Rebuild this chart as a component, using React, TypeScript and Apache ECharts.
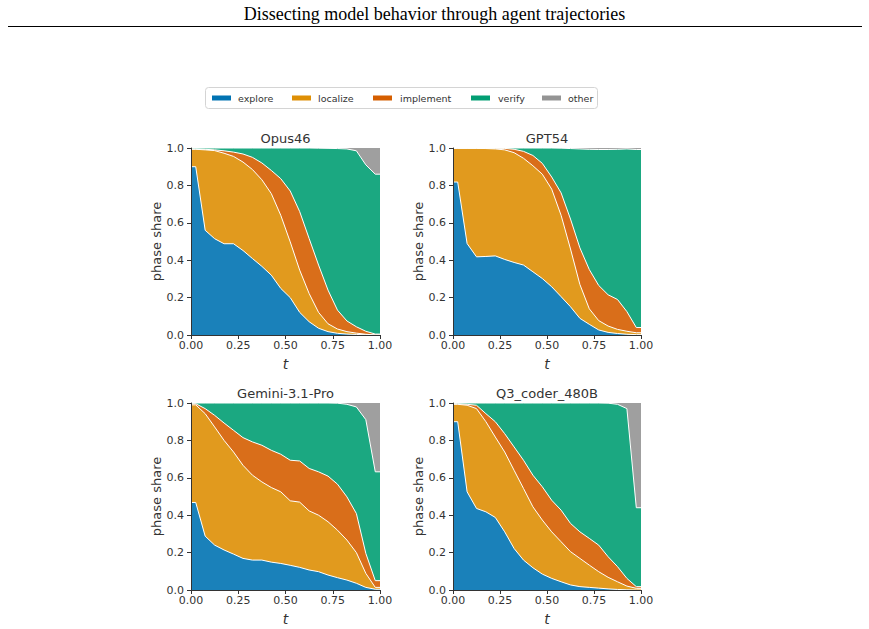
import React, { useEffect, useRef } from 'react';
import * as echarts from 'echarts';

// Trajectory-time bins (bin centres), with the curve held flat to t=0 and t=1
const T_CENTERS = [0.025, 0.075, 0.125, 0.175, 0.225, 0.275, 0.325, 0.375, 0.425, 0.475,
  0.525, 0.575, 0.625, 0.675, 0.725, 0.775, 0.825, 0.875, 0.925, 0.975];

const MODELS = ['Opus46', 'GPT54', 'Gemini-3.1-Pro', 'Q3_coder_480B'];
const PHASES = ['explore', 'localize', 'implement', 'verify', 'other'];

// Cumulative upper boundary of each phase band
const OPUS_EXPLORE = [0.90, 0.56, 0.515, 0.488, 0.488, 0.452, 0.409, 0.367, 0.32, 0.249, 0.2, 0.121, 0.071, 0.036, 0.018, 0.009, 0.005, 0.003, 0.001, 0.0];
const OPUS_LOCALIZE = [0.993, 0.99, 0.986, 0.972, 0.955, 0.925, 0.885, 0.83, 0.756, 0.64, 0.498, 0.347, 0.222, 0.121, 0.06, 0.032, 0.018, 0.01, 0.004, 0.0];
const OPUS_IMPLEMENT = [0.995, 0.993, 0.99, 0.985, 0.978, 0.968, 0.95, 0.92, 0.88, 0.836, 0.77, 0.66, 0.516, 0.374, 0.24, 0.133, 0.075, 0.044, 0.02, 0.005];
const OPUS_VERIFY = [1, 1, 1, 1, 1, 1, 1, 1, 1, 1, 1, 1, 1, 0.999, 0.998, 0.997, 0.995, 0.985, 0.91, 0.86];

const GPT_EXPLORE = [0.818, 0.489, 0.418, 0.42, 0.423, 0.404, 0.388, 0.374, 0.338, 0.302, 0.258, 0.205, 0.151, 0.089, 0.057, 0.027, 0.014, 0.008, 0.004, 0.002];
const GPT_LOCALIZE = [0.998, 0.998, 0.998, 0.997, 0.995, 0.99, 0.975, 0.945, 0.905, 0.86, 0.78, 0.64, 0.46, 0.27, 0.14, 0.077, 0.048, 0.03, 0.02, 0.012];
const GPT_IMPLEMENT = [0.999, 0.999, 0.999, 0.999, 0.999, 0.998, 0.993, 0.982, 0.96, 0.918, 0.845, 0.76, 0.62, 0.466, 0.35, 0.265, 0.215, 0.19, 0.125, 0.04];
const GPT_VERIFY = [1, 1, 1, 1, 1, 1, 1, 1, 1, 1, 1, 0.999, 0.997, 0.995, 0.993, 0.992, 0.992, 0.993, 0.995, 0.992];

const GEM_EXPLORE = [0.468, 0.288, 0.24, 0.214, 0.192, 0.169, 0.16, 0.16, 0.149, 0.142, 0.132, 0.121, 0.107, 0.098, 0.08, 0.066, 0.053, 0.036, 0.014, 0.004];
const GEM_LOCALIZE = [0.99, 0.943, 0.872, 0.8, 0.738, 0.667, 0.614, 0.578, 0.548, 0.525, 0.477, 0.47, 0.423, 0.4, 0.365, 0.32, 0.267, 0.2, 0.089, 0.014];
const GEM_IMPLEMENT = [0.996, 0.97, 0.934, 0.893, 0.854, 0.815, 0.792, 0.774, 0.747, 0.726, 0.694, 0.69, 0.65, 0.632, 0.609, 0.566, 0.498, 0.409, 0.196, 0.05];
const GEM_VERIFY = [1, 1, 1, 1, 1, 1, 1, 1, 1, 1, 1, 1, 1, 1, 1, 0.999, 0.993, 0.979, 0.911, 0.632];

const Q3_EXPLORE = [0.9, 0.525, 0.436, 0.418, 0.388, 0.311, 0.222, 0.16, 0.119, 0.085, 0.062, 0.044, 0.027, 0.018, 0.014, 0.01, 0.006, 0.003, 0.001, 0.0];
const Q3_LOCALIZE = [0.993, 0.988, 0.97, 0.9, 0.818, 0.738, 0.64, 0.543, 0.445, 0.374, 0.311, 0.258, 0.205, 0.169, 0.133, 0.098, 0.068, 0.044, 0.021, 0.009];
const Q3_IMPLEMENT = [0.996, 0.993, 0.988, 0.943, 0.9, 0.836, 0.765, 0.694, 0.614, 0.552, 0.48, 0.427, 0.356, 0.311, 0.276, 0.24, 0.178, 0.125, 0.062, 0.018];
const Q3_VERIFY = [1, 1, 1, 1, 1, 1, 1, 1, 1, 1, 1, 1, 1, 1, 1, 1, 0.999, 0.993, 0.97, 0.44];

const TOTAL = 1;

const Y_TICKS_STEP = 0.2;
const X_TICKS_STEP = 0.25;

const AREA_COLORS = ['#1a81ba', '#e19a1e', '#d96e1a', '#1ba881', '#9f9f9f'];
const LEGEND_COLORS = ['#0173b2', '#de8f05', '#d55e00', '#029e73', '#949494'];

const F = 'DejaVu Sans';

const PANEL_DATA = [
  [OPUS_EXPLORE, OPUS_LOCALIZE, OPUS_IMPLEMENT, OPUS_VERIFY],
  [GPT_EXPLORE, GPT_LOCALIZE, GPT_IMPLEMENT, GPT_VERIFY],
  [GEM_EXPLORE, GEM_LOCALIZE, GEM_IMPLEMENT, GEM_VERIFY],
  [Q3_EXPLORE, Q3_LOCALIZE, Q3_IMPLEMENT, Q3_VERIFY],
];

const GRIDS = [
  { left: 191, top: 148, width: 189, height: 187 },
  { left: 453, top: 148, width: 188, height: 187 },
  { left: 191, top: 403, width: 189, height: 187 },
  { left: 453, top: 403, width: 188, height: 187 },
];

function toPoints(vals: number[]) {
  const xs = [0, ...T_CENTERS, 1];
  const ys = [vals[0], ...vals, vals[vals.length - 1]];
  return xs.map((x, i) => [x, ys[i]]);
}

export default function App() {
  const ref = useRef<HTMLDivElement>(null);
  useEffect(() => {
    document.body.style.margin = '0';
    if (!ref.current) return;
    const chart = echarts.init(ref.current, null, { renderer: 'svg' });

    const series: any[] = [];
    PANEL_DATA.forEach((bounds, pi) => {
      const totals = T_CENTERS.map(() => TOTAL);
      const layers = [
        { name: 'other', vals: totals, color: AREA_COLORS[4], line: 0 },
        { name: 'verify', vals: bounds[3], color: AREA_COLORS[3], line: 1 },
        { name: 'implement', vals: bounds[2], color: AREA_COLORS[2], line: 1 },
        { name: 'localize', vals: bounds[1], color: AREA_COLORS[1], line: 1 },
        { name: 'explore', vals: bounds[0], color: AREA_COLORS[0], line: 1 },
      ];
      layers.forEach((l) => {
        series.push({
          type: 'line',
          name: l.name,
          xAxisIndex: pi,
          yAxisIndex: pi,
          data: toPoints(l.vals),
          symbol: 'none',
          smooth: false,
          lineStyle: { color: '#ffffff', width: l.line },
          areaStyle: { color: l.color, opacity: 1 },
          itemStyle: { color: l.color },
          silent: true,
        });
      });
    });

    const axisCommon = {
      z: 10,
      axisLine: { show: true, lineStyle: { color: '#333', width: 1 } },
      axisTick: { show: true, length: 4, lineStyle: { color: '#333', width: 1 } },
      splitLine: { show: false },
    };

    const graphic: any[] = [
      {
        type: 'text',
        x: 434.5,
        y: 14,
        style: {
          text: 'Dissecting model behavior through agent trajectories',
          font: '18px "Liberation Serif", "Times New Roman", serif',
          fill: '#000',
          textAlign: 'center',
          textVerticalAlign: 'middle',
        },
      },
      {
        type: 'line',
        shape: { x1: 8, y1: 26.5, x2: 862, y2: 26.5 },
        style: { stroke: '#000', lineWidth: 1.2 },
      },
      {
        type: 'rect',
        shape: { x: 205.5, y: 87.5, width: 392, height: 21, r: 3 },
        style: { fill: '#fff', stroke: '#d4d4d4', lineWidth: 1 },
      },
    ];
    const legendSwatchX = [212, 292, 373, 471, 542];
    const legendTextX = [238, 318, 400, 498, 568];
    PHASES.forEach((p, i) => {
      graphic.push({
        type: 'rect',
        shape: { x: legendSwatchX[i], y: 95.5, width: 19, height: 5 },
        style: { fill: LEGEND_COLORS[i] },
      });
      graphic.push({
        type: 'text',
        x: legendTextX[i],
        y: 98,
        style: {
          text: p,
          font: `9.5px "${F}"`,
          fill: '#333',
          textAlign: 'left',
          textVerticalAlign: 'middle',
        },
      });
    });
    MODELS.forEach((m, i) => {
      const g = GRIDS[i];
      graphic.push({
        type: 'text',
        x: g.left + g.width / 2,
        y: g.top - 10,
        style: {
          text: m,
          font: `13px "${F}"`,
          fill: '#333',
          textAlign: 'center',
          textVerticalAlign: 'middle',
        },
      });
    });

    chart.setOption({
      animation: false,
      backgroundColor: '#ffffff',
      grid: GRIDS.map((g) => ({ ...g, containLabel: false })),
      xAxis: GRIDS.map((_, i) => ({
        ...axisCommon,
        type: 'value',
        gridIndex: i,
        min: 0,
        max: 1,
        interval: X_TICKS_STEP,
        name: 't',
        nameLocation: 'middle',
        nameGap: 22,
        nameTextStyle: { fontFamily: F, fontSize: 14, fontStyle: 'italic', color: '#333' },
        axisLabel: {
          formatter: (v: number) => v.toFixed(2),
          fontFamily: F,
          fontSize: 11,
          color: '#333',
          margin: 5,
        },
      })),
      yAxis: GRIDS.map((_, i) => ({
        ...axisCommon,
        type: 'value',
        gridIndex: i,
        min: 0,
        max: 1,
        interval: Y_TICKS_STEP,
        name: 'phase share',
        nameLocation: 'middle',
        nameGap: 28,
        nameTextStyle: { fontFamily: F, fontSize: 13, color: '#333' },
        axisLabel: {
          formatter: (v: number) => v.toFixed(1),
          fontFamily: F,
          fontSize: 11,
          color: '#333',
          margin: 7,
        },
      })),
      series,
      graphic,
    });
    return () => chart.dispose();
  }, []);
  return <div ref={ref} style={{ width: 869, height: 629 }} />;
}
